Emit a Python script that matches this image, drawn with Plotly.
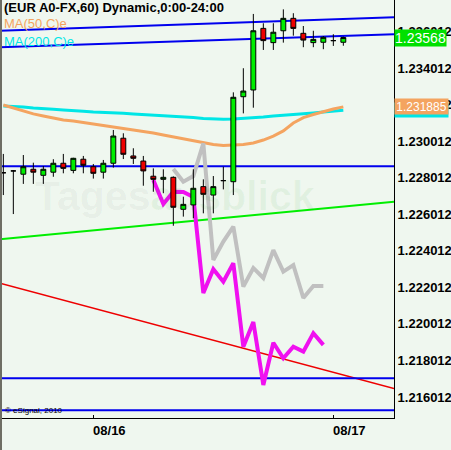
import plotly.graph_objects as go
import pandas as pd

# ---------------- data ----------------
times = pd.date_range("2010-08-15 15:00", periods=35, freq="h")

opens = [1.22828, 1.22838, 1.22820, 1.22847, 1.22814, 1.22831, 1.22880, 1.22841, 1.22902, 1.22861,
         1.22831, 1.22880, 1.23017, 1.22920, 1.22892, 1.22809, 1.22792, 1.22803, 1.22628, 1.22652,
         1.22752, 1.22706, 1.22785, 1.22779, 1.23244, 1.23281, 1.23618, 1.23540, 1.23605, 1.23673,
         1.23591, 1.23540, 1.23542, 1.23551, 1.23542]
highs = [1.22931, 1.22843, 1.22925, 1.22883, 1.22865, 1.22902, 1.22931, 1.22910, 1.22920, 1.22876,
         1.22898, 1.23062, 1.23044, 1.22962, 1.22920, 1.22852, 1.22847, 1.22808, 1.22697, 1.22847,
         1.22792, 1.22810, 1.22861, 1.23268, 1.23400, 1.23697, 1.23646, 1.23646, 1.23722, 1.23701,
         1.23631, 1.23605, 1.23576, 1.23586, 1.23573]
lows = [1.22706, 1.22602, 1.22767, 1.22767, 1.22767, 1.22806, 1.22825, 1.22825, 1.22825, 1.22796,
        1.22796, 1.22856, 1.22903, 1.22876, 1.22757, 1.22724, 1.22716, 1.22538, 1.22588, 1.22579,
        1.22606, 1.22606, 1.22737, 1.22706, 1.23153, 1.23184, 1.23500, 1.23500, 1.23540, 1.23578,
        1.23515, 1.23515, 1.23504, 1.23522, 1.23523]
closes = [1.22828, 1.22838, 1.22861, 1.22831, 1.22847, 1.22880, 1.22852, 1.22907, 1.22869, 1.22825,
          1.22880, 1.23029, 1.22929, 1.22907, 1.22838, 1.22792, 1.22803, 1.22639, 1.22655, 1.22743,
          1.22710, 1.22752, 1.22785, 1.23241, 1.23275, 1.23605, 1.23551, 1.23597, 1.23673, 1.23618,
          1.23554, 1.23558, 1.23569, 1.23551, 1.23568]

ma50 = [1.23199, 1.23182, 1.23166, 1.23150, 1.23139, 1.23128, 1.23117, 1.23111, 1.23103, 1.23095,
        1.23089, 1.23081, 1.23073, 1.23065, 1.23057, 1.23046, 1.23035, 1.23024, 1.23013, 1.23002,
        1.22991, 1.22983, 1.22977, 1.22980, 1.22983, 1.22991, 1.23007, 1.23029, 1.23057, 1.23100,
        1.23130, 1.23147, 1.23163, 1.23177, 1.231885]
ma200 = [1.23193, 1.23191, 1.23188, 1.23182, 1.23180, 1.23175, 1.23171, 1.23169, 1.23164, 1.23160,
         1.23159, 1.23156, 1.23153, 1.23150, 1.23147, 1.23144, 1.23141, 1.23139, 1.23135, 1.23130,
         1.23125, 1.23122, 1.23121, 1.23122, 1.23125, 1.23128, 1.23133, 1.23139, 1.23142, 1.23147,
         1.23151, 1.23155, 1.23160, 1.23165, 1.23170]

magenta_path = [1.22788, 1.22657, 1.22724, 1.22723, 1.22695, 1.22170, 1.22300, 1.22232, 1.22333,
                1.21876, 1.22011, 1.21667, 1.21898, 1.21813, 1.21876, 1.21849, 1.21950, 1.21886]
gray_path = [1.22849, 1.22779, 1.22810, 1.22989, 1.22351, 1.22451, 1.22533, 1.22205, 1.22307,
             1.22252, 1.22405, 1.22287, 1.22323, 1.22143, 1.22208, 1.22208]

line_span = ["2010-08-15 14:40", "2010-08-17 06:04"]
blue_upper = [1.23605, 1.23679]
blue_middle = [1.23515, 1.23586]
blue_flat = [1.22863, 1.22863]
green_trend = [1.22464, 1.22670]
red_trend = [1.22223, 1.21647]
blue_low1 = [1.21704, 1.21704]
blue_low2 = [1.21528, 1.21528]

y_range = [1.21486, 1.237733]
y_ticks = [1.216012, 1.218012, 1.220012, 1.222012, 1.224012, 1.226012, 1.228012,
           1.230012, 1.232012, 1.234012, 1.236012]
x_ticks = ["2010-08-16", "2010-08-17"]
x_ticktext = ["08/16", "08/17"]

BG = "#EFF7EF"
ORANGE = "#F4A460"
CYAN = "#00E6E6"
GREEN = "#00EE00"
RED = "#EE0000"
BLUE = "#0000EE"
FONT = "Liberation Sans, Arial"

fig = go.Figure()

def tline(yvals, color, width):
    fig.add_trace(go.Scatter(x=line_span, y=yvals, mode="lines",
                             line=dict(color=color, width=width), hoverinfo="skip",
                             showlegend=False))

tline(blue_upper, BLUE, 2)
tline(blue_middle, BLUE, 2)
tline(blue_flat, BLUE, 2)
tline(green_trend, GREEN, 2)
tline(red_trend, RED, 1.5)
tline(blue_low1, BLUE, 2)
tline(blue_low2, BLUE, 2)

fig.add_trace(go.Scatter(x=times, y=ma200, mode="lines", line=dict(color=CYAN, width=3),
                         showlegend=False))
fig.add_trace(go.Scatter(x=times, y=ma50, mode="lines", line=dict(color=ORANGE, width=3),
                         showlegend=False))
fig.add_trace(go.Scatter(x=times[17:33], y=gray_path, mode="lines",
                         line=dict(color="#C0C0C0", width=4), showlegend=False))
fig.add_trace(go.Scatter(x=times[15:33], y=magenta_path, mode="lines",
                         line=dict(color="#F010F0", width=4), showlegend=False))

fig.add_trace(go.Candlestick(
    x=times, open=opens, high=highs, low=lows, close=closes,
    xaxis="x2", yaxis="y2",
    increasing=dict(line=dict(color="black", width=1), fillcolor=GREEN),
    decreasing=dict(line=dict(color="black", width=1), fillcolor=RED),
    whiskerwidth=0, showlegend=False))

fig.update_layout(
    width=451, height=450,
    margin=dict(l=0, r=57, t=0, b=32),
    paper_bgcolor=BG, plot_bgcolor=BG,
    showlegend=False,
    xaxis=dict(type="date", range=line_span, tickvals=x_ticks, ticktext=x_ticktext,
               showgrid=False, zeroline=False, showline=True, linecolor="black", linewidth=1,
               ticks="inside", ticklen=3, tickcolor="black", ticklabelshift=16,
               tickfont=dict(family=FONT, size=13, color="black", weight="bold"),
               rangeslider=dict(visible=False)),
    yaxis=dict(range=y_range, side="right", tickvals=y_ticks,
               ticktext=[f"{v:.6f}" for v in y_ticks],
               showgrid=False, zeroline=False, showline=True, linecolor="black", linewidth=1,
               ticks="", tickfont=dict(family=FONT, size=13, color="black", weight="bold")),
    xaxis2=dict(type="date", range=line_span, overlaying="x", visible=False,
                rangeslider=dict(visible=False)),
    yaxis2=dict(range=y_range, overlaying="y", visible=False),
    boxgap=0.3,
)

W = 394.0
H = 418.0
annotations = [
    dict(text="(EUR A0-FX,60) Dynamic,0:00-24:00", x=2 / W, y=1 - 8 / H, xref="paper", yref="paper",
         xanchor="left", yanchor="middle", showarrow=False,
         font=dict(family=FONT, size=13, color="black", weight="bold")),
    dict(text="MA(50,C)e", x=2 / W, y=1 - 24 / H, xref="paper", yref="paper",
         xanchor="left", yanchor="middle", showarrow=False,
         font=dict(family=FONT, size=13, color=ORANGE)),
    dict(text="MA(200,C)e", x=2 / W, y=1 - 41 / H, xref="paper", yref="paper",
         xanchor="left", yanchor="middle", showarrow=False,
         font=dict(family=FONT, size=13, color=CYAN)),
    dict(text="© eSignal, 2010", x=3 / W, y=1 - 410 / H, xref="paper", yref="paper",
         xanchor="left", yanchor="middle", showarrow=False,
         font=dict(family=FONT, size=8, color="black")),
    dict(text="<span style='color:rgba(0,0,0,0.045)'>Tages</span>"
              "<span style='color:rgba(0,140,0,0.06)'>ausblick</span>",
         x=33 / W, y=1 - 196 / H, xref="paper", yref="paper",
         xanchor="left", yanchor="middle", showarrow=False,
         font=dict(family=FONT, size=41, weight="bold")),
    dict(text=" ", x=1.0, y=ma200[-1], xref="paper", yref="y",
         xanchor="left", yanchor="middle", showarrow=False, bgcolor=CYAN, borderpad=0,
         width=53, height=14, font=dict(family=FONT, size=12, color="white")),
    dict(text=f"{ma50[-1]:.6f}", x=1.0, y=ma50[-1], xref="paper", yref="y",
         xanchor="left", yanchor="middle", showarrow=False, bgcolor=ORANGE, borderpad=0,
         width=53, height=15, font=dict(family=FONT, size=12, color="white")),
    dict(text=f"{closes[-1]:.5f}", x=1.0, y=closes[-1], xref="paper", yref="y",
         xanchor="left", yanchor="middle", showarrow=False, bgcolor="#00E000", borderpad=0,
         width=51, height=16, font=dict(family=FONT, size=14, color="white")),
]
fig.update_layout(annotations=annotations)

fig.add_shape(type="rect", xref="paper", yref="paper", x0=0, x1=2 / W, y0=-32 / H, y1=1,
              fillcolor="#6E6E64", line=dict(width=0), layer="above")

fig.write_html("out.html", config={"displayModeBar": False},
               post_script="document.body.style.margin='0px';document.body.style.overflow='hidden';")
